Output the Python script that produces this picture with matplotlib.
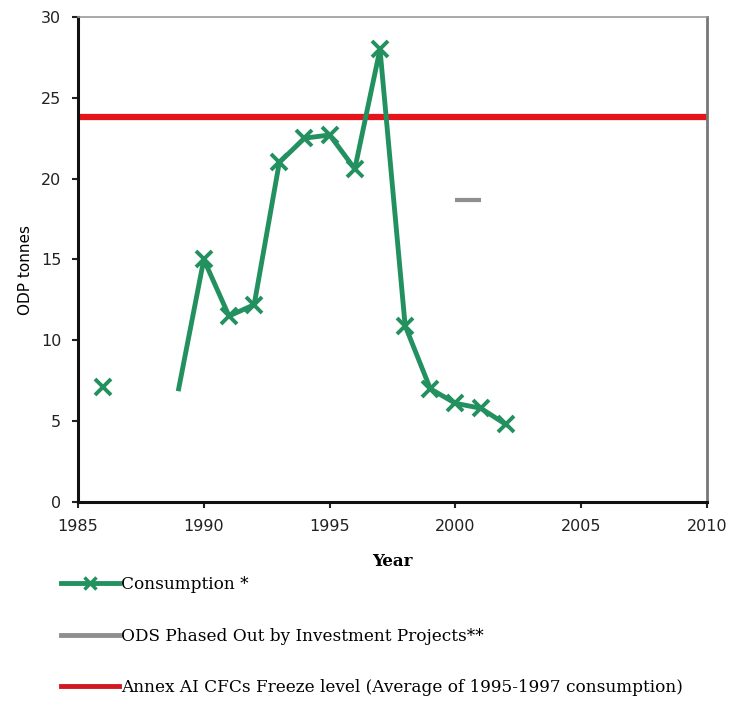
import numpy as np
import matplotlib
matplotlib.use("Agg")
import matplotlib.pyplot as plt
from matplotlib.lines import Line2D

# Annual CFC consumption (ODP tonnes); gaps are years with no reported data
years = [1986, 1987, 1988, 1989, 1990, 1991, 1992, 1993, 1994,
         1995, 1996, 1997, 1998, 1999, 2000, 2001, 2002]
consumption = [7.1, np.nan, np.nan, 7.0, 15.0, 11.5, 12.2, 21.0, 22.5,
               22.7, 20.6, 28.0, 10.9, 7.0, 6.1, 5.8, 4.8]

# ODS phased out by investment projects
phaseout_years = [2000, 2001]
phaseout_values = [18.7, 18.7]

# Annex A group I freeze level (average of 1995-1997 consumption)
freeze_level = 23.8

x_ticks = [1985, 1990, 1995, 2000, 2005, 2010]
y_ticks = [0, 5, 10, 15, 20, 25, 30]

labels = ["Consumption *",
          "ODS Phased Out by Investment Projects**",
          "Annex AI CFCs Freeze level (Average of 1995-1997 consumption)"]

green = "#23915f"
grey = "#8f8f8f"
red = "#e5141b"

fig = plt.figure(figsize=(7.29, 7.06), dpi=100)
ax = fig.add_axes([0.107, 0.289, 0.863, 0.687])

ax.axhline(freeze_level, color=red, lw=4.5, zorder=2)
ax.plot(phaseout_years, phaseout_values, color=grey, lw=3.0,
        solid_capstyle="butt", zorder=3)
marker_idx = [i for i in range(len(years)) if years[i] != 1989]
ax.plot(years, consumption, color=green, lw=3.5, marker="x", ms=12,
        mew=2.8, markevery=marker_idx, zorder=4)

ax.set_xlim(1985, 2010)
ax.set_ylim(0, 30)
ax.set_xticks(x_ticks)
ax.set_yticks(y_ticks)
ax.tick_params(direction="out", length=4, width=1.5, labelsize=11.5,
               colors="#222222")
ax.tick_params(axis="y", pad=8)
ax.tick_params(axis="x", pad=8)
for lab in ax.get_xticklabels() + ax.get_yticklabels():
    lab.set_family("DejaVu Sans")

for side in ("left", "bottom"):
    ax.spines[side].set_color("#111111")
    ax.spines[side].set_linewidth(2.2)
ax.spines["top"].set_color("#9a9a9a")
ax.spines["top"].set_linewidth(1.2)
ax.spines["right"].set_color("#777777")
ax.spines["right"].set_linewidth(2.0)

ax.set_ylabel("ODP tonnes", family="DejaVu Sans", fontsize=11)
ax.yaxis.set_label_coords(-0.071, 0.478)
ax.set_xlabel("Year", family="DejaVu Serif", fontweight="bold",
              fontsize=12, labelpad=14)

handles = [
    Line2D([], [], color=green, lw=3.5, marker="x", ms=8, mew=2.5),
    Line2D([], [], color=grey, lw=3.5),
    Line2D([], [], color="#d01820", lw=3.5),
]
fig.legend(handles, labels, loc="upper left",
           bbox_to_anchor=(0.075, 1 - 569 / 706), frameon=False,
           prop={"family": "DejaVu Serif", "size": 12.2},
           handlelength=3.4, handletextpad=0.1, labelspacing=2.05,
           numpoints=1, borderaxespad=0)

fig.savefig("out.png", dpi=100, facecolor="white")
